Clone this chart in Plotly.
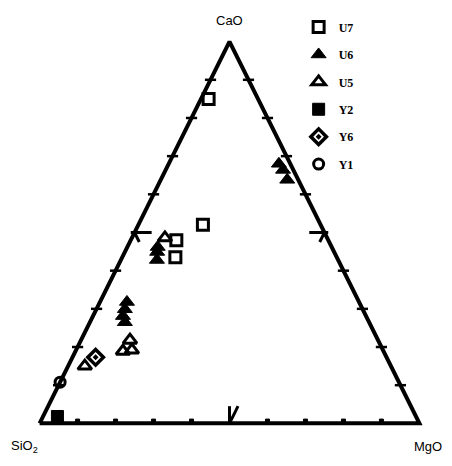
"""
三元图 CaO - SiO2 - MgO
"""
import plotly.graph_objects as go

# compositions in %, (CaO, MgO); SiO2 is the rest
u7_cao = [85, 52, 48, 43.5]
u7_mgo = [2, 17, 12, 14]

u6_cao = [68, 66.4, 63.8, 46.2, 44.9, 42.8, 31.8, 29.9, 28.1, 26.5]
u6_mgo = [29, 30.9, 33.3, 8.0, 8.5, 9.5, 7.1, 7.5, 7.9, 9.2]

u5_cao = [48.6, 21.8, 18.9, 19.2, 15.0]
u5_mgo = [8.7, 12.9, 12.5, 14.7, 4.4]

y2_cao = [1.8]
y2_mgo = [3.8]

y6_cao = [17.3]
y6_mgo = [6.1]

y1_cao = [10.8]
y1_mgo = [0.0]

tick_pct = [10, 20, 30, 40, 60, 70, 80, 90]


def tern(cao, mgo):
    # SiO2 lower left, MgO lower right, CaO on top
    xs = [(m + c / 2) / 100 for c, m in zip(cao, mgo)]
    ys = [c / 100 for c in cao]
    return xs, ys


fig = go.Figure()

# frame
fx, fy = tern([0, 0, 100, 0], [0, 100, 0, 0])
fig.add_trace(go.Scatter(x=fx, y=fy, mode="lines", line=dict(color="black", width=4),
                         showlegend=False, hoverinfo="skip", cliponaxis=False))

# ticks on the three edges
lx, ly = tern(tick_pct, [0] * len(tick_pct))
rx, ry = tern(tick_pct, [100 - t for t in tick_pct])
bx, by = tern([0.6] * len(tick_pct), [t - 0.3 for t in tick_pct])
for xs, ys, sym, size, w in [(lx, ly, "line-ew", 8, 2.5), (rx, ry, "line-ew", 8, 2.5),
                             (bx, by, "square", 4, 1)]:
    fig.add_trace(go.Scatter(x=xs, y=ys, mode="markers",
                             marker=dict(symbol=sym, size=size, color="black",
                                         line=dict(color="black", width=w)),
                             showlegend=False, hoverinfo="skip", cliponaxis=False))

# 50% marks
for cao, mgo in [([50, 50], [-1, 4.5]), ([50, 47.5], [0, 2.5]),
                 ([50, 50], [51, 46]), ([50, 47.5], [50, 50]),
                 ([0, 4.5], [50, 47.75]), ([0, 4.5], [50, 50])]:
    mx, my = tern(cao, mgo)
    fig.add_trace(go.Scatter(x=mx, y=my, mode="lines", line=dict(color="black", width=3),
                             showlegend=False, hoverinfo="skip", cliponaxis=False))

series = [
    ("U7", u7_cao, u7_mgo, "square-open", 11, 3),
    ("U6", u6_cao, u6_mgo, "triangle-up", 13, 1),
    ("U5", u5_cao, u5_mgo, "triangle-up-open", 12, 3),
    ("Y2", y2_cao, y2_mgo, "square", 12, 1),
    ("Y6", y6_cao, y6_mgo, "diamond-open-dot", 12, 3.5),
    ("Y1", y1_cao, y1_mgo, "circle-open", 10, 3),
]
for name, cao, mgo, sym, size, w in series:
    xs, ys = tern(cao, mgo)
    fig.add_trace(go.Scatter(
        x=xs, y=ys, mode="markers", name=name, legendgroup=name,
        marker=dict(symbol=sym, size=size, color="black", line=dict(color="black", width=w)),
        cliponaxis=False,
    ))

lab_font = dict(family="Liberation Sans, Arial, sans-serif", size=13, color="black")
for tx, ty, txt in [(0.5, 1.035, "CaO"), (-0.018, -0.04, "SiO<sub>2</sub>"), (1.002, -0.04, "MgO")]:
    fig.add_annotation(x=tx, y=ty, xref="paper", yref="paper", text=txt,
                       xanchor="center", yanchor="middle", showarrow=False, font=lab_font)

fig.update_layout(
    width=452, height=466,
    paper_bgcolor="white", plot_bgcolor="white",
    margin=dict(l=24, r=33, t=26, b=43, autoexpand=False),
    showlegend=True,
    legend=dict(x=0.675, y=1.054, xanchor="left", yanchor="top", tracegroupgap=8.4,
                bgcolor="rgba(0,0,0,0)",
                font=dict(family="Liberation Serif, Times New Roman, serif", size=12,
                          color="black", weight="bold")),
)
fig.update_xaxes(range=[-0.02, 1.02], visible=False)
fig.update_yaxes(range=[-0.02, 1.02], visible=False)

fig.write_html("out.html")
